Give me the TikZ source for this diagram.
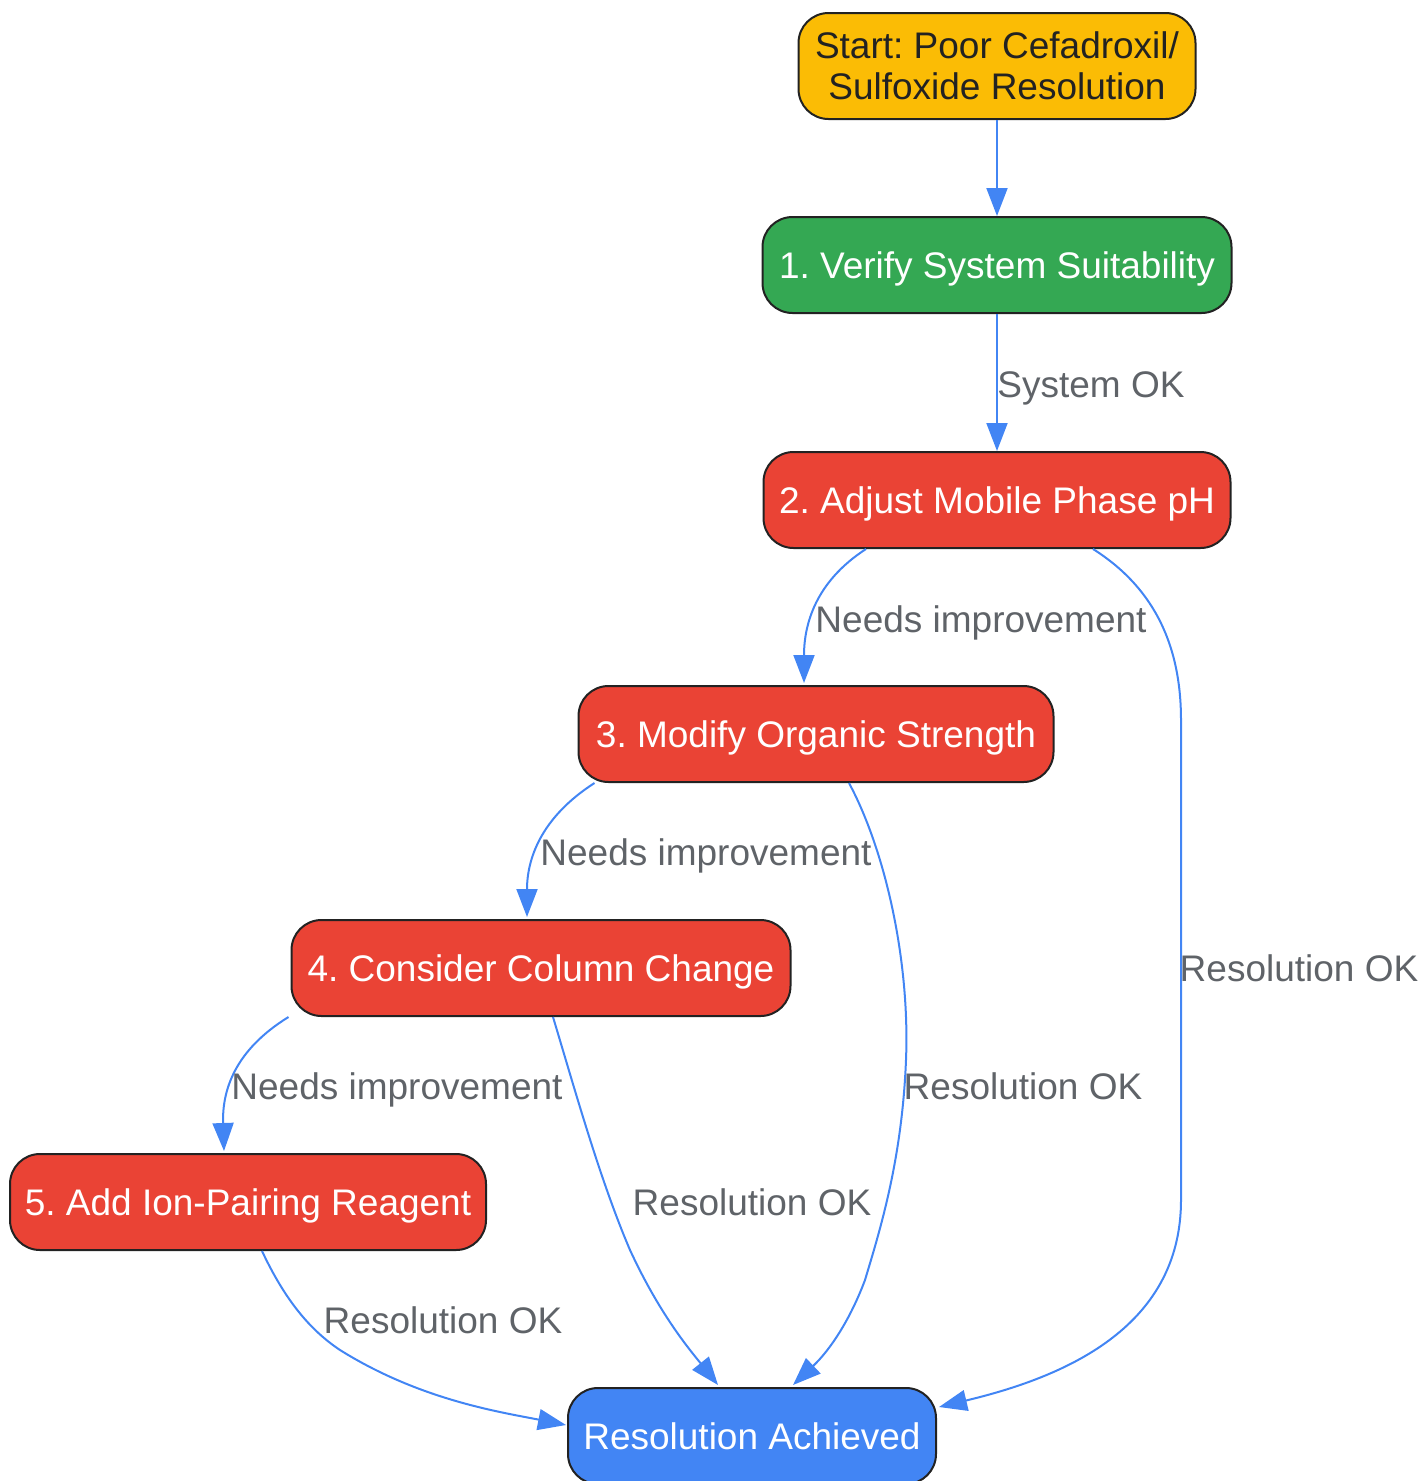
\documentclass[tikz,border=0pt]{standalone}
\usepackage{fontspec}
\setmainfont{Liberation Sans}
\usetikzlibrary{arrows.meta,calc}
\definecolor{cyel}{HTML}{FBBC05}
\definecolor{cgrn}{HTML}{34A853}
\definecolor{cred}{HTML}{EA4335}
\definecolor{cblu}{HTML}{4285F4}
\definecolor{cedge}{HTML}{4285F4}
\definecolor{clab}{HTML}{5F6368}
\definecolor{cbord}{HTML}{222222}
\frenchspacing
\begin{document}
\begin{tikzpicture}[x=1pt,y=-1pt,
  box/.style={draw=cbord,line width=2pt,rounded corners=30pt,minimum height=96pt,
    inner xsep=14pt,inner ysep=0pt,text height=26.5pt,text depth=0pt,
    font=\fontsize{37}{41}\selectfont},
  redbox/.style={box,fill=cred,text=white},
  conn/.style={draw=cedge,line width=2pt,-{Triangle[length=28pt,width=21pt]}},
  lab/.style={anchor=base,text=clab,inner sep=0pt,font=\fontsize{37}{41}\selectfont}]
\useasboundingbox (0,0) rectangle (1424,1481);
\node[box,fill=cyel,text=cbord,align=center,minimum height=106pt,minimum width=397pt,text height=,text depth=] (st) at (997,66) {Start: Poor Cefadroxil/\\Sulfoxide Resolution};
\node[box,fill=cgrn,text=white,minimum width=469pt] (n1) at (997,265) {1. Verify System Suitability};
\node[redbox,minimum width=467pt] (n2) at (997,500) {2. Adjust Mobile Phase pH};
\node[redbox,minimum width=475pt] (n3) at (816,734) {3. Modify Organic Strength};
\node[redbox,minimum width=499pt] (n4) at (541,968) {4. Consider Column Change};
\node[redbox,minimum width=476pt] (n5) at (248,1202) {5. Add Ion-Pairing Reagent};
\node[box,fill=cblu,text=white,minimum width=368pt] (res) at (752,1436) {Resolution Achieved};

\draw[conn] (st.south) -- (n1.north);
\draw[conn] (n1.south) -- (n2.north);
\draw[conn] ($(n2.south)+(-131,0)$) .. controls (815,582) and (804,625) .. ($(n3.north)+(-12,-2)$);
\draw[conn] ($(n2.south)+(96,0)$) .. controls (1150,585) and (1181,640) .. (1181,720) -- (1181,1200) .. controls (1181,1330) and (1060,1378) .. ($(res.east)+(2,-29)$);
\draw[conn] ($(n3.south west)+(17,0)$) .. controls (540,818) and (527,860) .. ($(n4.north)+(-14,-2)$);
\draw[conn] ($(n3.south)+(33,0)$) .. controls (885,850) and (910,960) .. (906,1060) .. controls (902,1160) and (880,1230) .. (865,1280) .. controls (850,1320) and (830,1350) .. ($(res.north)+(41,-2)$);
\draw[conn] ($(n4.south)+(12,0)$) .. controls (575,1090) and (600,1180) .. (630,1250) .. controls (660,1315) and (690,1350) .. ($(res.north)+(-34,-2)$);
\draw[conn] ($(n4.south west)+(-2,0)$) .. controls (235,1050) and (222,1090) .. ($(n5.north)+(-24,-2)$);
\draw[conn] ($(n5.south)+(14,0)$) .. controls (285,1300) and (310,1330) .. (340,1350) .. controls (420,1400) and (500,1412) .. ($(res.west)+(-1,-11)$);

\node[lab] (l1) at (1091,397) {System OK};
\node[lab] (l2) at (981,632) {Needs improvement};
\node[lab] (l3) at (706,865) {Needs improvement};
\node[lab] (l4) at (397,1099) {Needs improvement};
\node[lab] (l5) at (1299,981) {Resolution OK};
\node[lab] (l6) at (1023,1099) {Resolution OK};
\node[lab] (l7) at (752,1215) {Resolution OK};
\node[lab] (l8) at (443,1333) {Resolution OK};
\end{tikzpicture}
\end{document}
